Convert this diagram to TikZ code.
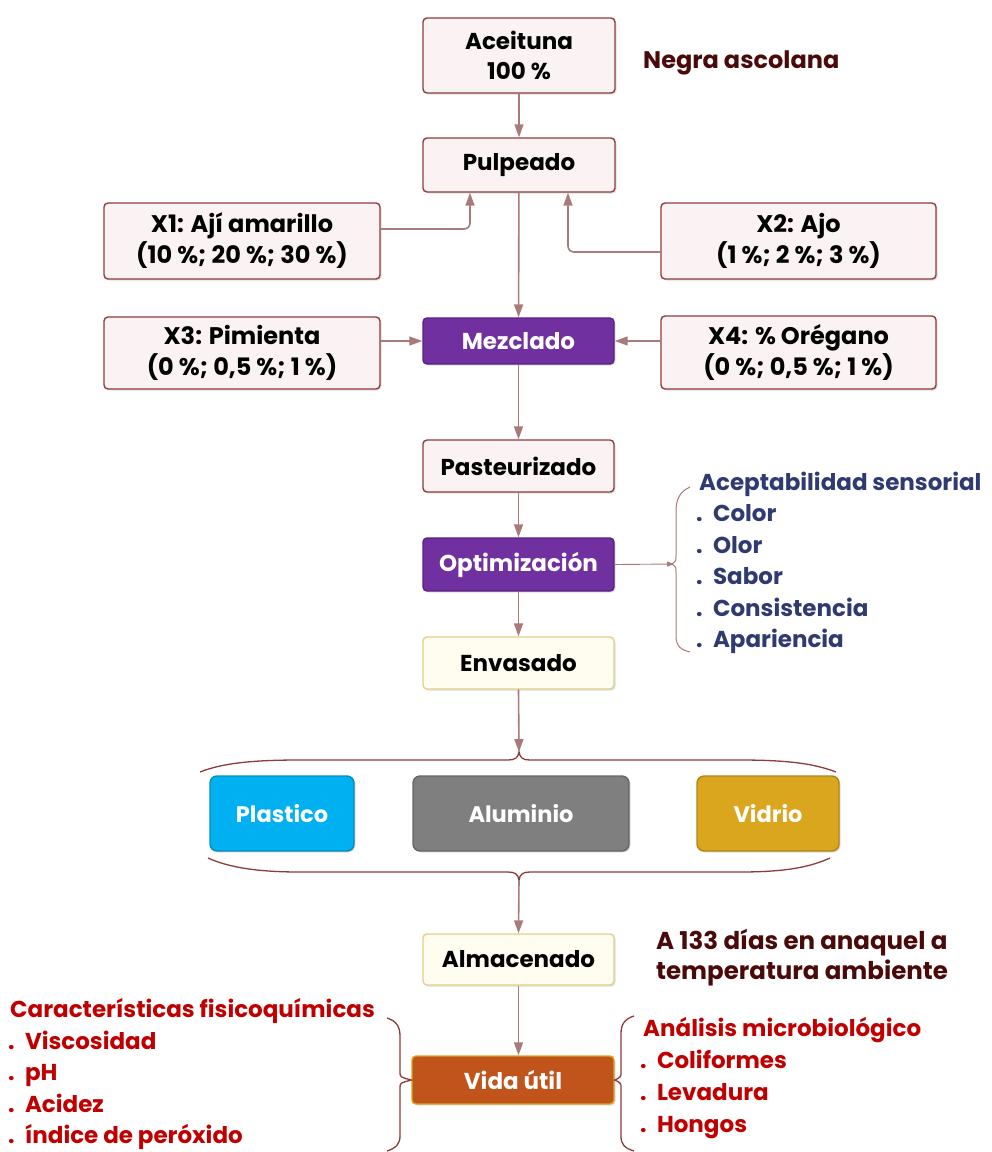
\documentclass[tikz,border=0pt]{standalone}
\usepackage{fontspec}
\setmainfont{Poppins}
\usetikzlibrary{arrows.meta,shadows,calc}
\definecolor{boxfill}{HTML}{FBF3F3}
\definecolor{boxborder}{HTML}{8E3B3B}
\definecolor{arrcol}{HTML}{A87A7A}
\definecolor{purp}{HTML}{7030A0}
\definecolor{purpb}{HTML}{5A1F80}
\definecolor{creamf}{HTML}{FFFDF0}
\definecolor{creamb}{HTML}{E2CF8B}
\definecolor{plast}{HTML}{00B0F0}
\definecolor{alum}{HTML}{7F7F7F}
\definecolor{vidr}{HTML}{D9A61E}
\definecolor{vida}{HTML}{C0541A}
\definecolor{redt}{HTML}{C00000}
\definecolor{navy}{HTML}{2E3A70}
\definecolor{maroont}{HTML}{4A0A0A}
\definecolor{bracecol}{HTML}{8E3B3B}
\tikzset{
  base/.style={rounded corners=4pt, line width=1.4pt, align=center, inner sep=2pt,
    font=\bfseries\fontsize{23}{30}\selectfont,
    drop shadow={opacity=0.25, shadow xshift=1.5pt, shadow yshift=-1.5pt}},
  pbox/.style={base, draw=boxborder, fill=boxfill},
  xbox/.style={pbox, font=\bfseries\fontsize{24}{31}\selectfont},
  ubox/.style={base, draw=purpb, fill=purp, text=white},
  cbox/.style={base, draw=creamb, fill=creamf},
  mbox/.style={base, font=\bfseries\fontsize{22.5}{30}\selectfont, rounded corners=7pt, text=white, draw=#1!80!black, fill=#1},
  arr/.style={draw=arrcol, line width=1.6pt, -{Triangle[length=13pt,width=9pt]}},
  brc/.style={draw=bracecol, line width=1.3pt},
  side/.style={anchor=west, font=\bfseries\fontsize{23}{31.5}\selectfont, align=left, inner sep=0pt},
}
\begin{document}
\begin{tikzpicture}[x=1pt,y=-1pt]
\useasboundingbox (0,0) rectangle (992,1152);
% nodes
\node[pbox, minimum width=192pt, minimum height=75pt] (acei) at (519,55.5) {Aceituna\\100 \%};
\node[pbox, minimum width=192pt, minimum height=54pt] (pulp) at (519,165) {Pulpeado};
\node[xbox, minimum width=276pt, minimum height=76pt] (x1) at (242,241) {X1: Ají amarillo\\(10 \%; 20 \%; 30 \%)};
\node[xbox, minimum width=275pt, minimum height=76pt] (x2) at (798.5,241) {X2: Ajo\\(1 \%; 2 \%; 3 \%)};
\node[xbox, minimum width=276pt, minimum height=72pt] (x3) at (242,353) {X3: Pimienta\\(0 \%; 0,5 \%; 1 \%)};
\node[xbox, minimum width=275pt, minimum height=73pt] (x4) at (798.5,352.5) {X4: \% Orégano\\(0 \%; 0,5 \%; 1 \%)};
\node[ubox, minimum width=191pt, minimum height=46pt] (mez) at (518.5,341) {Mezclado};
\node[pbox, minimum width=191pt, minimum height=52pt] (past) at (518.5,466) {Pasteurizado};
\node[ubox, minimum width=191pt, minimum height=53pt] (opt) at (518.5,564.5) {Optimización};
\node[cbox, minimum width=191pt, minimum height=52pt] (env) at (518.5,663) {Envasado};
\node[mbox=plast, minimum width=144pt, minimum height=75pt] (pla) at (282,813.5) {Plastico};
\node[mbox=alum, minimum width=216pt, minimum height=75pt] (alu) at (521,813.5) {Aluminio};
\node[mbox=vidr, minimum width=142pt, minimum height=75pt] (vid) at (768,813.5) {Vidrio};
\node[cbox, minimum width=191pt, minimum height=51pt] (alm) at (518.5,959.5) {Almacenado};
\node[base, draw=vidr, fill=vida, text=white, minimum width=202pt, minimum height=48pt] (vu) at (513,1080) {Vida útil};
% side texts
\node[side, text=maroont, font=\bfseries\fontsize{24}{30}\selectfont] (neg) at (643,63) {Negra ascolana};
\node[side, text=navy] (acep) at (696,563) {\hspace*{3pt}Aceptabilidad sensorial\\. \,Color\\. \,Olor\\. \,Sabor\\. \,Consistencia\\. \,Apariencia};
\node[side, text=maroont, font=\bfseries\fontsize{24.5}{30}\selectfont] (dias) at (656,958) {A 133 días en anaquel a\\temperatura ambiente};
\node[side, text=redt] (fis) at (8,1074) {\hspace*{2pt}Características fisicoquímicas\\. \,Viscosidad\\. \,pH\\. \,Acidez\\. \,índice de peróxido};
\node[side, text=redt, font=\bfseries\fontsize{23}{32}\selectfont] (mic) at (640,1078) {\hspace*{3pt}Análisis microbiológico\\. \,Coliformes\\. \,Levadura\\. \,Hongos};
% connectors
\draw[arr] (acei) -- (pulp);
\draw[arr, rounded corners=6pt] (x1.east |- 0,229) -| ([xshift=-49pt]pulp.south);
\draw[arr, rounded corners=6pt] (x2.west |- 0,252) -| ([xshift=49pt]pulp.south);
\draw[arr] (pulp) -- (mez);
\draw[arr] (x3.east |- mez.west) -- (mez.west);
\draw[arr] (x4.west |- mez.east) -- (mez.east);
\draw[arr] (mez) -- (past);
\draw[arr] (past) -- (opt);
\draw[arr] (opt) -- (env);
% sensory brace
\coordinate (stip) at (674,564);
\draw[draw=arrcol, line width=0.9pt, -{Triangle[length=7pt,width=5pt]}] (opt.east) -- (stip);
\draw[brc, line width=1pt, draw=arrcol] (690,487) .. controls (679,492) and (676,500) .. (676,512) -- (676,556) .. controls (676,561) .. (672,564) .. controls (676,567) .. (676,572) -- (676,636) .. controls (676,646) and (681,650) .. (690,652);
% top brace
\coordinate (ttip) at (519,752);
\draw[arr] (env.south) -- (ttip);
\draw[brc] (200,772) .. controls (225,762) and (260,760) .. (300,760) -- (508,760) .. controls (515,760) and (518,758) .. (ttip) .. controls (520,758) and (523,760) .. (530,760) -- (740,760) .. controls (790,760) and (815,764) .. (836,772);
% bottom brace
\coordinate (btip) at (519,880);
\draw[brc] (208,858) .. controls (230,868) and (260,872) .. (300,872) -- (508,872) .. controls (515,872) and (518,874) .. (btip) .. controls (520,874) and (523,872) .. (530,872) -- (740,872) .. controls (790,872) and (812,866) .. (830,858);
\draw[arr] (btip) -- (alm.north);
\draw[arr] (alm) -- (alm |- vu.north);
% bottom side braces
\draw[brc] (387,1018) .. controls (396,1021) and (400,1026) .. (400,1036) -- (400,1072) .. controls (400,1077) .. (vu.west) .. controls (400,1083) .. (400,1088) -- (400,1136) .. controls (400,1144) and (396,1148) .. (387,1151);
\draw[brc] (634,1016) .. controls (624,1019) and (621,1025) .. (621,1034) -- (621,1072) .. controls (621,1077) .. (vu.east) .. controls (621,1083) .. (621,1088) -- (621,1136) .. controls (621,1144) and (624,1148) .. (634,1151);
\end{tikzpicture}
\end{document}
